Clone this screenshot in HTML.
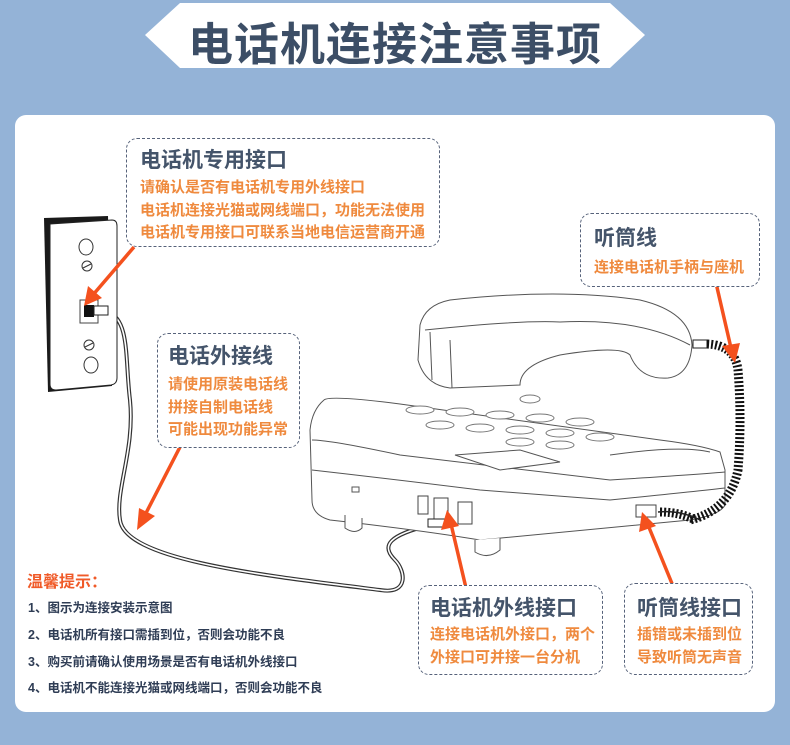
<!DOCTYPE html>
<html><head><meta charset="utf-8"><style>
body{margin:0;width:790px;height:745px;background:#94b3d7;position:relative;overflow:hidden;font-family:"Liberation Sans","Noto Sans CJK SC",sans-serif}
.card{position:absolute;left:15px;top:115px;width:760px;height:597px;background:#fff;border-radius:11px}
.box{position:absolute;border:1.5px dashed #56627a;border-radius:11px;background:#fff}
.t{position:absolute;font-weight:bold;color:#44546a;white-space:nowrap}
.o{position:absolute;font-weight:bold;color:#ef8a3e;white-space:nowrap;font-size:15px}
.l{position:absolute;left:28px;font-weight:bold;color:#2f3d55;font-size:12.5px;white-space:nowrap}
</style></head><body>
<svg style="position:absolute;left:0;top:0" width="790" height="80"><polygon points="145,35 180,3 610,3 645,35 610,68 180,68" fill="#fff"/></svg>
<div class="t" style="left:0;width:790px;text-align:center;top:8px;font-size:45px;color:#3c4e66;letter-spacing:1px">电话机连接注意事项</div>
<div class="card"></div>
<svg style="position:absolute;left:0;top:0" width="790" height="745">
<g fill="none" stroke-linecap="round">
<path d="M108,312 C130,320 125,360 130,400 C135,450 115,490 120,520 C125,560 260,575 380,590 C410,595 405,570 395,560 C380,545 390,535 430,525" stroke="#333" stroke-width="4"/>
<path d="M108,312 C130,320 125,360 130,400 C135,450 115,490 120,520 C125,560 260,575 380,590 C410,595 405,570 395,560 C380,545 390,535 430,525" stroke="#fff" stroke-width="1.6"/>
</g>
<path d="M44,218 L108,216 L112,386 L48,392 Z" fill="#1a1a1a"/>
<path d="M50,224 L112,220 Q117,220 117,226 L117,378 Q117,384 111,385 L56,390 Q50,390 50,384 Z" fill="#fff" stroke="#222" stroke-width="1"/>
<ellipse cx="86" cy="247" rx="7" ry="8" fill="#fff" stroke="#333"/>
<ellipse cx="87" cy="266" rx="5" ry="5" fill="#fff" stroke="#333"/><line x1="83" y1="268" x2="91" y2="264" stroke="#333"/>
<ellipse cx="89" cy="345" rx="5" ry="5" fill="#fff" stroke="#333"/><line x1="85" y1="347" x2="93" y2="343" stroke="#333"/>
<ellipse cx="91" cy="365" rx="7" ry="8" fill="#fff" stroke="#333"/>
<rect x="80" y="300" width="18" height="23" fill="#fff" stroke="#444"/>
<rect x="84" y="305" width="10" height="12" fill="#111"/>
<rect x="94" y="306" width="14" height="9" fill="#fff" stroke="#222"/>
<g fill="#fff" stroke="#555" stroke-width="1">
<path d="M420,325 Q425,305 450,300 Q560,288 640,300 Q690,312 692,345 Q690,375 668,378 Q640,380 630,355 Q620,345 560,355 Q520,365 520,385 L450,388 Q425,385 418,360 Z"/>
<path d="M425,330 Q520,320 560,322 Q640,318 690,345" fill="none"/>
<path d="M450,340 L452,388 M430,332 L432,380" fill="none"/>
</g>
<rect x="693" y="340" width="14" height="8" fill="#fff" stroke="#222"/>
<g fill="#fff" stroke="#555" stroke-width="1">
<path d="M324,400 Q330,395 400,404 L660,440 Q700,445 720,452 L725,470 L725,505 Q720,515 690,520 L480,540 Q420,530 330,520 Q312,515 312,500 L310,430 Q312,410 324,400 Z"/>
<path d="M312,440 Q330,440 400,455 L610,480 Q690,475 725,472" fill="none"/>
<path d="M312,470 Q400,480 480,490 L610,500 Q690,492 725,488" fill="none"/>
<path d="M345,515 L345,528 Q355,535 362,528 L362,518"/>
<path d="M475,540 L475,552 Q488,560 500,550 L500,538"/>
<path d="M455,455 L520,450 L560,462 L500,470 Z"/>
<path d="M610,455 Q680,445 710,452" fill="none"/>
</g>
<g fill="#fff" stroke="#777" stroke-width="1">
<ellipse cx="420" cy="410" rx="14" ry="4"/><ellipse cx="460" cy="412" rx="14" ry="4"/><ellipse cx="500" cy="415" rx="14" ry="4"/><ellipse cx="540" cy="418" rx="14" ry="4"/><ellipse cx="580" cy="422" rx="14" ry="4"/>
<ellipse cx="440" cy="425" rx="14" ry="4"/><ellipse cx="480" cy="428" rx="14" ry="4"/><ellipse cx="520" cy="430" rx="14" ry="4"/><ellipse cx="560" cy="433" rx="14" ry="4"/><ellipse cx="600" cy="437" rx="14" ry="4"/>
<ellipse cx="520" cy="442" rx="14" ry="4"/><ellipse cx="560" cy="445" rx="14" ry="4"/><ellipse cx="530" cy="399" rx="10" ry="4"/>
</g>
<rect x="352" y="487" width="7" height="5" fill="#fff" stroke="#555"/>
<rect x="418" y="496" width="10" height="18" fill="#fff" stroke="#444"/>
<rect x="434" y="498" width="14" height="22" fill="#fff" stroke="#444"/>
<rect x="458" y="502" width="14" height="22" fill="#fff" stroke="#444"/>
<rect x="428" y="519" width="18" height="8" fill="#fff" stroke="#222"/>
<rect x="636" y="505" width="20" height="12" fill="#fff" stroke="#444"/>
<path d="M707,344 Q735,345 738,370 Q742,420 738,470 Q730,510 690,520 M660,512 Q680,512 695,520" fill="none" stroke="#111" stroke-width="9" stroke-dasharray="2 2"/>
<path d="M658,512 Q680,510 700,520" fill="none" stroke="#222" stroke-width="1.5"/>
<g stroke="#f4511e" stroke-width="3.5" fill="#f4511e">
<line x1="134" y1="247" x2="92" y2="296"/><polygon points="84,306 88,286 102,298" stroke="none"/>
<line x1="180" y1="447" x2="145" y2="515"/><polygon points="137,530 139,508 155,516" stroke="none"/>
<line x1="716" y1="283" x2="731" y2="348"/><polygon points="735,363 722,346 740,343" stroke="none"/>
<line x1="466" y1="588" x2="451" y2="524"/><polygon points="447,510 459,526 441,530" stroke="none"/>
<line x1="673" y1="586" x2="648" y2="525"/><polygon points="642,512 656,526 639,532" stroke="none"/>
</g>
</svg>
<div class="box" style="left:126px;top:138px;width:312px;height:107px"></div>
<div class="t" style="left:140px;top:144px;font-size:21px">电话机专用接口</div>
<div class="o" style="left:140px;top:176px">请确认是否有电话机专用外线接口</div>
<div class="o" style="left:140px;top:199px">电话机连接光猫或网线端口，功能无法使用</div>
<div class="o" style="left:140px;top:221px">电话机专用接口可联系当地电信运营商开通</div>
<div class="box" style="left:580px;top:213px;width:178px;height:72px"></div>
<div class="t" style="left:594px;top:222px;font-size:21px">听筒线</div>
<div class="o" style="left:594px;top:256px">连接电话机手柄与座机</div>
<div class="box" style="left:157px;top:333px;width:141px;height:113px"></div>
<div class="t" style="left:168px;top:340px;font-size:21px">电话外接线</div>
<div class="o" style="left:168px;top:373px">请使用原装电话线</div>
<div class="o" style="left:168px;top:396px">拼接自制电话线</div>
<div class="o" style="left:168px;top:418px">可能出现功能异常</div>
<div class="box" style="left:418px;top:585px;width:183px;height:88px"></div>
<div class="t" style="left:430px;top:592px;font-size:21px">电话机外线接口</div>
<div class="o" style="left:430px;top:623px">连接电话机外接口，两个</div>
<div class="o" style="left:430px;top:646px">外接口可并接一台分机</div>
<div class="box" style="left:624px;top:583px;width:127px;height:90px"></div>
<div class="t" style="left:637px;top:592px;font-size:21px">听筒线接口</div>
<div class="o" style="left:637px;top:623px">插错或未插到位</div>
<div class="o" style="left:637px;top:646px">导致听筒无声音</div>
<div class="t" style="left:27px;top:568px;font-size:16px;color:#f05a28">温馨提示：</div>
<div class="l" style="top:597px">1、图示为连接安装示意图</div>
<div class="l" style="top:624px">2、电话机所有接口需插到位，否则会功能不良</div>
<div class="l" style="top:651px">3、购买前请确认使用场景是否有电话机外线接口</div>
<div class="l" style="top:677px">4、电话机不能连接光猫或网线端口，否则会功能不良</div>
</body></html>
